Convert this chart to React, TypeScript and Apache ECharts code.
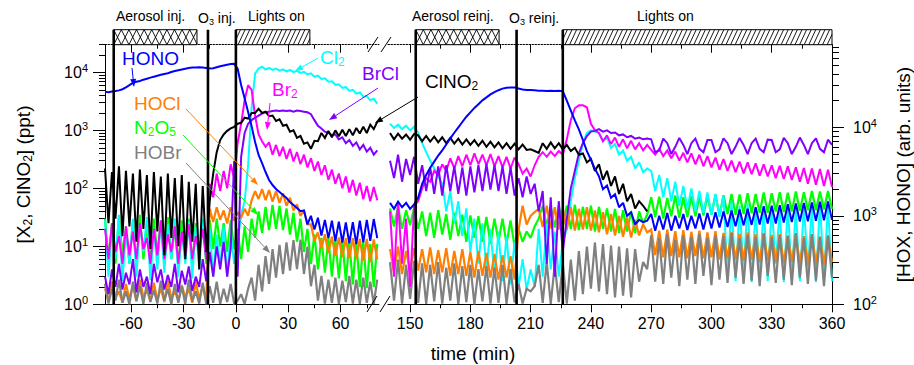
import React, { useEffect, useRef } from "react";
import * as echarts from "echarts";

const FONT = "'Liberation Sans', Arial, Helvetica, sans-serif";

// ---- time sampling of the two axis segments (min) ----
const LEFT_T0 = -75;
const RIGHT_T0 = 140;
const DT = 2;
const LEFT_RANGE = [-75, 82];
const RIGHT_RANGE = [139, 360];
const PPT_RANGE = [1, 30000];
const ARB_RANGE = [100, 86000];

// ---- ticks ----
const leftMajorTicks = [-60, -30, 0, 30, 60];
const leftMinorTicks = [-45, -15, 15, 45, 75];
const rightMajorTicks = [150, 180, 210, 240, 270, 300, 330, 360];
const rightMinorTicks = [165, 195, 225, 255, 285, 315, 345];
const pptDecades = [1, 10, 100, 1000, 10000];
const pptMinor = [2, 3, 4, 5, 6, 7, 8, 9, 20, 30, 40, 50, 60, 70, 80, 90, 200, 300, 400, 500, 600, 700, 800, 900, 2000, 3000, 4000, 5000, 6000, 7000, 8000, 9000, 20000, 30000];
const arbDecades = [100, 1000, 10000];
const arbMinor = [200, 300, 400, 500, 600, 700, 800, 900, 2000, 3000, 4000, 5000, 6000, 7000, 8000, 9000, 20000, 30000, 40000, 50000, 60000, 70000, 80000];

// ---- events (min) ----
const eventsLeft = [-70, -16, 0];
const eventsRight = [152.8, 203, 226];
// [start, end, kind] kind 0 = aerosol (cross-hatch), 1 = lights (hatch)
const boxesLeft = [[-70, -22.3, 0], [0, 42.4, 1]];
const boxesRight = [[152.8, 194.3, 0], [226, 360, 1]];

// ---- left segment data, t = -75, -73, ... 81 ----
const honoLeft = [25200, 25000, 25500, 25800, 26200, 27000, 28300, 30000, 31900, 32800, 33500, 34600, 35500, 36500, 37400, 38300, 39300, 40200, 41000, 42200, 43300, 44200, 45200, 46000, 46800, 47400, 47600, 47800, 47600, 47000, 46300, 46600, 47800, 49000, 50000, 51000, 51900, 52200,
  46000, 30100, 21400, 14900, 10300, 6820, 4870, 3950, 3130, 2540, 2230, 2010, 1860, 1720, 1590, 1430, 1325, 1225, 1130,
  1150, 800, 1000, 700, 950, 600, 900, 560, 880, 520, 860, 500, 840, 490, 850, 480, 880, 500, 900, 520, 920, 560];
const cl2Left = [28, 3, 22, 6, 35, 2.5, 18, 5, 30, 3, 25, 8, 32, 2.6, 20, 4, 28, 3.5, 24, 6, 30, 3, 18, 5, 26, 2.8, 22, 4, 30, 6, 20, 3, 16, 4.5, 22, 3, 18, 5,
  12, 35, 60, 250, 2500, 9500,
  11700, 12500, 11200, 12000, 11000, 11600, 10700, 11300, 10400, 11000, 10100, 10600, 9800, 10200, 9200, 9600, 8400, 8800, 7700, 7900, 6900, 7000, 6100, 6200, 5400, 5600, 4800, 5000, 4300, 4500, 3800, 3900, 3300, 3500, 2900];
const br2Left = [20, 6, 25, 8, 15, 5, 22, 7, 18, 6, 25, 9, 14, 5, 20, 7, 28, 6, 16, 8, 22, 5, 18, 7, 24, 6, 15, 8, 20, 6,
  120, 70, 180, 90, 200, 100, 260, 150,
  600, 1300, 3300, 6000, 5000, 1800, 850, 650, 520,
  620, 380, 560, 360, 520, 320, 480, 290, 420, 260, 380, 230, 330, 200, 290, 170, 250, 140, 210, 120, 180, 100, 160, 85, 140, 75, 125, 65, 110, 60, 105, 62];
const brclLeft = [3, 1.5, 4, 2, 5, 1.8, 3.5, 2.2, 6, 1.6, 4, 2, 3, 1.5, 5, 2.4, 4, 1.8, 3.2, 2, 5, 1.6, 3.8, 2.2, 4.5, 1.7, 3, 2, 6, 2.5, 8, 3, 10, 4, 12, 3, 9,
  300,
  3, 350, 900, 1300, 1500, 1650, 1800, 1950, 2050, 2100, 2150, 2200, 2150, 2200, 2150, 2200, 2100, 2200, 2150, 2100, 2050, 1900, 1500, 1200, 1080, 950, 900, 830, 850, 700, 760, 600, 680, 540, 620, 470, 560, 430, 500, 380, 450];
const clno2Left = [220, 25, 190, 30, 240, 15, 200, 22, 180, 12, 210, 20, 170, 9, 190, 18, 160, 7, 180, 14, 150, 10, 170, 6, 130, 12, 120, 4, 110, 8,
  60, 180, 420, 680, 850, 980, 1080, 1150,
  1300, 1350, 1650, 1600, 2000, 2000, 2350, 2000, 2100, 1750, 1800, 1450, 1550, 1200, 1250, 950, 1000, 740, 800, 590, 620, 480, 660, 650, 900, 740, 980, 760, 1000, 790, 1020, 800, 1050, 820, 1100, 880, 1150, 900, 1250, 1050, 1400];
const hoclLeft = [150, 110, 180, 120, 140, 105, 170, 115, 160, 110, 190, 120, 145, 108, 175, 112, 150, 106, 185, 118, 140, 110, 165, 120, 150, 104, 180, 115, 160, 112,
  1200, 850, 1250, 900, 1150, 820, 1250, 880,
  1100, 950, 1200, 1000,
  1500, 1900, 1550, 2000, 1500, 1950, 1450, 1900, 1400, 1800, 1300, 1600, 1150, 1350, 1000, 1150, 800, 800, 520, 650, 430, 620, 380, 580, 350, 570, 340, 560, 330, 560, 320, 550, 310, 550, 300, 540, 320];
const n2o5Left = [30, 6, 25, 5, 32, 7, 22, 5, 28, 4.5, 35, 6, 24, 5, 30, 7, 26, 5, 32, 6, 22, 4.5, 28, 6, 30, 5, 25, 7, 28, 5,
  28, 9, 30, 10, 25, 8, 28, 9,
  20, 6, 22, 8,
  30, 14, 40, 17, 48, 19, 52, 20, 50, 19, 45, 16, 38, 12, 30, 8, 20, 5, 16, 4, 14, 3.5, 14, 3, 13, 2.8, 13, 2.5, 12, 2.2, 12, 2, 12, 1.9, 11, 2, 11];
const hobrLeft = [170, 102, 150, 110, 190, 104, 140, 100, 180, 108, 160, 101, 175, 106, 145, 102, 185, 110, 150, 100, 170, 104, 160, 101, 190, 108, 140, 102, 175, 100, 160, 104, 180, 101, 150, 106, 170, 102,
  110, 130, 101, 150,
  200, 110, 280, 140, 350, 170, 420, 200, 470, 220, 500, 240, 530, 250, 540, 220, 450, 160, 280, 110, 210, 102, 190, 104, 200, 101, 185, 106, 210, 102, 190, 101, 200, 104, 180, 101, 190];

// ---- right segment data, t = 140, 142, ... 360 ----
const honoRight = [1400, 1200, 1450, 1250, 1400, 1200, 1350,
  1600, 2300, 2900, 3500, 4100, 4800, 5500, 6400, 7500, 8700, 10000, 11500, 13200, 14800, 16600, 18300, 20200, 21800, 23600, 25000, 26300, 27400, 28000, 28300, 28300, 27500, 26800, 26500, 26400, 26300, 26000, 25900, 25800, 26000, 25800, 25900, 25700,
  20000, 15500, 12000, 9500, 7200, 5400, 4300, 3400,
  2800, 2000, 2200, 1600, 1750, 1250, 1400, 1000, 1100, 800, 900, 850, 880,
  1050, 680, 1000, 700, 1080, 680, 1000, 720, 1050, 690, 1000, 720, 1060, 700, 1080, 720, 1100, 740, 1120, 750, 1150, 760, 1180, 780, 1200, 790, 1250, 800, 1280, 820, 1300, 820, 1320, 840, 1350, 850, 1380, 860, 1400, 870, 1420, 880, 1440, 890, 1450, 900];
const cl2Right = [1300, 1100, 1250, 1050, 1200, 1000, 1150,
  900, 600, 420, 300, 220, 160,
  120, 40, 90, 25, 60, 15, 45, 8, 30, 5, 25, 4, 20, 3, 18, 2.5, 15, 2.2, 12, 2, 6, 1.8, 4, 2, 20, 3, 25, 4, 18, 3, 12,
  20, 60, 150, 300, 600, 900, 1000, 950,
  900, 650, 750, 500, 580, 380, 450, 300, 350, 220, 280, 190, 220,
  200, 90, 170, 70, 150, 60, 130, 50, 110, 45, 100, 40, 90, 38, 85, 35, 80, 32, 75,
  3, 60, 2.5, 50, 4, 55, 2.4, 45, 3, 50, 2.5, 48, 5, 42, 2.4, 50, 3, 45, 2.5, 52, 4, 48, 2.4, 55, 3, 50, 2.5];
const br2Right = [40, 3, 60, 5, 30, 2, 50,
  60, 100, 150, 130, 200, 170, 260, 200, 330, 220, 360, 240, 380, 250, 400, 260, 380, 250, 390, 240, 360, 230, 350, 220, 340,
  260, 180, 220, 160, 250, 350, 420, 350, 430, 360, 440, 380,
  700, 1500, 2400, 2700, 2700, 2500, 1300, 1000,
  900, 650, 820, 580, 750, 520, 700, 490, 660, 470, 600, 450, 560, 460, 380, 480, 360, 450, 330, 430, 300, 410, 280, 400, 260, 380, 240, 360, 230, 340, 210, 320, 200, 300, 190, 290, 180, 280, 175, 270, 165, 260, 160, 250, 150, 245, 145, 240, 140, 230, 130, 225, 120, 220, 115, 215, 110, 210, 105];
const brclRight = [300, 150, 380, 130, 320, 170, 350,
  120, 250, 90, 230, 80, 240, 75, 250, 90, 240, 80, 230, 75, 240, 85, 250, 90, 260, 95, 250, 90, 240, 80, 230, 75,
  150, 70, 160, 80, 120, 40, 90, 5, 70, 3, 60, 8,
  30, 100, 200, 400, 600, 800, 950, 980,
  1050, 950, 1000, 900, 920, 820, 850, 760, 800, 720, 750, 700, 720,
  700, 420, 450, 720, 600, 390, 520, 740, 560, 390, 600, 720, 480, 420, 680, 680, 420, 470, 730, 600, 390, 520, 740, 560, 390, 600, 720, 480, 420, 690, 680, 420, 470, 740, 600, 390, 520, 750, 560, 390, 600, 730, 480, 420, 690, 560];
const clno2Right = [900, 700, 880, 720, 850, 690, 870,
  820, 650, 800, 640, 780, 620, 760, 600, 740, 590, 720, 570, 700, 560, 680, 540, 660, 520, 640, 510, 620, 490, 600, 480, 590, 470, 570, 460, 470, 440, 410, 600, 480, 620, 490, 600, 470,
  560, 440, 500, 380, 400, 280, 320, 200, 260, 140, 200, 110, 160, 80, 120, 60, 80, 45, 60, 50, 40];
const hoclRight = [420, 230, 450, 220, 400, 240, 430,
  240, 420, 230, 440, 220, 410, 230, 430, 210, 400, 220, 420, 210, 390, 200, 400, 210, 380, 200, 370, 190, 360, 200, 350, 190,
  700, 1300, 800, 1000, 1100, 1200, 750, 1300, 720, 1250, 700, 1200,
  700, 1250, 680, 1200, 700, 1250, 680, 1150, 650, 1100, 620, 1050, 600, 1000, 580, 950, 570, 900, 600, 800, 650,
  700, 360, 680, 340, 700, 350, 670, 340, 690, 330, 660, 350, 680, 330, 650, 340, 670, 320, 640, 330, 660, 320, 630, 310, 650, 320, 620, 300, 640, 310, 610, 300, 620, 290, 600, 300, 610, 290, 590, 280, 600, 290, 580, 280, 590, 300];
const n2o5Right = [45, 22, 48, 20, 42, 23, 46,
  20, 40, 15, 38, 14, 42, 16, 36, 13, 38, 15, 35, 12, 34, 14, 33, 12, 32, 11, 30, 12, 30, 11, 28, 10,
  20, 12, 18, 14, 22, 30, 50, 22, 48, 21, 50, 22,
  50, 20, 52, 19, 48, 20, 50, 18, 48, 20, 45, 18, 44, 17, 42, 18, 40, 17, 40, 25, 35,
  70, 32, 72, 30, 68, 33, 75, 31, 70, 32, 73, 33, 72, 34, 75, 35, 78, 34, 76, 36, 80, 35, 78, 36, 82, 37, 80, 38, 85, 38, 82, 40, 86, 39, 84, 40, 88, 41, 86, 42, 90, 42, 88, 43, 90, 44];
const hobrRight = [300, 110, 320, 102, 280, 115, 310,
  104, 290, 101, 280, 108, 300, 102, 260, 110, 290, 101, 270, 106, 280, 100, 250, 108, 270, 102, 260, 104, 280, 101, 250, 105,
  170, 102, 150, 140, 160, 280, 104, 300, 101, 280, 106, 290,
  102, 320, 110, 400, 130, 450, 150, 500, 140, 480, 130, 460, 120, 450, 125, 430, 120, 420, 180, 300, 250,
  600, 180, 560, 170, 620, 200, 540, 160, 600, 190, 580, 170, 620, 210, 560, 165, 600, 190, 590, 175, 640, 200, 560, 170, 610, 185, 580, 160, 630, 210, 570, 175, 600, 190, 590, 165, 640, 200, 560, 170, 620, 185, 580, 160, 600, 200];

const C = {
  hono: "#0000ff",
  cl2: "#00ffff",
  br2: "#ff00ff",
  brcl: "#8000ff",
  clno2: "#000000",
  hocl: "#ff8000",
  n2o5: "#00ff00",
  hobr: "#808080",
};

// draw order: first drawn at the bottom
const species = [
  { key: "n2o5", axis: "ppt", left: n2o5Left, right: n2o5Right, width: 2.2 },
  { key: "cl2", axis: "ppt", left: cl2Left, right: cl2Right, width: 2 },
  { key: "hocl", axis: "arb", left: hoclLeft, right: hoclRight, width: 2.2 },
  { key: "hobr", axis: "arb", left: hobrLeft, right: hobrRight, width: 2.2 },
  { key: "br2", axis: "ppt", left: br2Left, right: br2Right, width: 2 },
  { key: "brcl", axis: "ppt", left: brclLeft, right: brclRight, width: 2 },
  { key: "clno2", axis: "ppt", left: clno2Left, right: clno2Right, width: 2 },
  { key: "hono", axis: "arb", left: honoLeft, right: honoRight, width: 2 },
];

const BOX_H = 15;

const renderEvent = (params: any, api: any) => {
  const cs = params.coordSys;
  const x = api.coord([api.value(0), api.value(1)])[0];
  return {
    type: "line",
    shape: { x1: x, y1: cs.y - BOX_H, x2: x, y2: cs.y + cs.height },
    style: { stroke: "#000", lineWidth: 2.6 },
  };
};

const renderBox = (params: any, api: any) => {
  const cs = params.coordSys;
  const x0 = api.coord([api.value(0), PPT_RANGE[0]])[0];
  const x1 = api.coord([api.value(1), PPT_RANGE[0]])[0];
  const kind = api.value(2);
  const top = cs.y - BOX_H;
  const bot = cs.y;
  const children: any[] = [
    { type: "rect", shape: { x: x0, y: top, width: x1 - x0, height: BOX_H }, style: { fill: "#fff" } },
  ];
  const spacing = kind === 0 ? 7.6 : 4.6;
  const dx = kind === 0 ? 7.6 : 7;
  const dirs = kind === 0 ? [1, -1] : [1];
  for (const d of dirs) {
    for (let s = x0 - dx; s < x1; s += spacing) {
      const uMin = Math.max(0, (x0 - s) / dx);
      const uMax = Math.min(1, (x1 - s) / dx);
      if (uMax <= uMin) continue;
      const yA = d > 0 ? bot : top;
      const yB = d > 0 ? top : bot;
      children.push({
        type: "line",
        shape: { x1: s + dx * uMin, y1: yA + (yB - yA) * uMin, x2: s + dx * uMax, y2: yA + (yB - yA) * uMax },
        style: { stroke: "#000", lineWidth: 0.9 },
      });
    }
  }
  children.push({
    type: "rect",
    shape: { x: x0, y: top, width: x1 - x0, height: BOX_H },
    style: { fill: "none", stroke: "#000", lineWidth: 1 },
  });
  return { type: "group", children };
};

const supFmt = (v: number) => `10{sup|${Math.round(Math.log10(v))}}`;
const supRich = { sup: { fontSize: 11, padding: [0, 0, 9, 0], fontFamily: FONT, color: "#000" } };

function xAxes(gridIndex: number, range: number[], major: number[], minor: number[]) {
  const base = {
    gridIndex,
    type: "value",
    min: range[0],
    max: range[1],
    splitLine: { show: false },
  };
  return [
    {
      ...base,
      position: "bottom",
      axisLine: { show: true, onZero: false, lineStyle: { color: "#000", width: 1 } },
      axisTick: { show: true, customValues: major, length: 8, lineStyle: { color: "#000" } },
      axisLabel: { show: true, customValues: major, fontSize: 16, color: "#000", fontFamily: FONT, margin: 11 },
    },
    {
      ...base,
      position: "bottom",
      axisLine: { show: false, onZero: false },
      axisTick: { show: true, customValues: minor, length: 4, lineStyle: { color: "#000" } },
      axisLabel: { show: false },
    },
    {
      ...base,
      position: "top",
      axisLine: { show: true, onZero: false, lineStyle: { color: "#000", width: 1, type: [1.5, 1.5] } },
      axisTick: { show: true, inside: true, customValues: major, length: 8, lineStyle: { color: "#000" } },
      axisLabel: { show: false },
    },
    {
      ...base,
      position: "top",
      axisLine: { show: false, onZero: false },
      axisTick: { show: true, inside: true, customValues: minor, length: 4, lineStyle: { color: "#000" } },
      axisLabel: { show: false },
    },
  ];
}

function logAxis(gridIndex: number, position: string, range: number[], extra: any) {
  return {
    gridIndex,
    position,
    type: "log",
    logBase: 10,
    min: range[0],
    max: range[1],
    splitLine: { show: false },
    minorTick: { show: false },
    ...extra,
  };
}

const arrows = [
  { from: [132, 68], to: [134, 87], color: C.hono },
  { from: [318, 58], to: [295, 71], color: C.cl2 },
  { from: [378, 88], to: [329, 120], color: C.brcl },
  { from: [270, 103], to: [267, 130], color: C.br2 },
  { from: [418, 97], to: [375, 123], color: C.clno2 },
  { from: [186, 109], to: [258, 185], color: C.hocl },
  { from: [183, 135], to: [258, 215], color: C.n2o5 },
  { from: [186, 163], to: [270, 253], color: C.hobr },
];

const labels = [
  { text: "HONO", x: 122, y: 49, color: C.hono },
  { text: "Cl{s|2}", x: 320, y: 47, color: C.cl2 },
  { text: "BrCl", x: 362, y: 64, color: C.brcl },
  { text: "Br{s|2}", x: 272, y: 79, color: C.br2 },
  { text: "ClNO{s|2}", x: 425, y: 71, color: C.clno2 },
  { text: "HOCl", x: 134, y: 94, color: C.hocl },
  { text: "N{s|2}O{s|5}", x: 134, y: 117, color: C.n2o5 },
  { text: "HOBr", x: 134, y: 143, color: C.hobr },
];

const topLabels = [
  { text: "Aerosol inj.", x: 116 },
  { text: "O{s|3} inj.", x: 198 },
  { text: "Lights on", x: 248 },
  { text: "Aerosol reinj.", x: 412 },
  { text: "O{s|3} reinj.", x: 509 },
  { text: "Lights on", x: 637 },
];

const breakMarks = [
  [367, 312, 377, 296],
  [380, 312, 390, 296],
  [368, 52, 378, 37],
  [381, 52, 391, 37],
];

function arrowEls(a: any) {
  const [x1, y1] = a.from;
  const [x2, y2] = a.to;
  const dx = x2 - x1;
  const dy = y2 - y1;
  const len = Math.hypot(dx, dy);
  const ux = dx / len;
  const uy = dy / len;
  const L = 8;
  const W = 3;
  const bx = x2 - ux * L;
  const by = y2 - uy * L;
  return [
    { type: "line", z: 100, shape: { x1, y1, x2: bx, y2: by }, style: { stroke: a.color, lineWidth: 1 } },
    {
      type: "polygon",
      z: 100,
      shape: { points: [[x2, y2], [bx - uy * W, by + ux * W], [bx + uy * W, by - ux * W]] },
      style: { fill: a.color },
    },
  ];
}

export default function App() {
  const ref = useRef<HTMLDivElement>(null);
  useEffect(() => {
    if (!ref.current) return;
    const chart = echarts.init(ref.current, undefined, { renderer: "svg" });

    const series: any[] = [];
    for (const sp of species) {
      const color = (C as any)[sp.key];
      series.push({
        type: "line",
        name: sp.key + "-L",
        xAxisIndex: 0,
        yAxisIndex: sp.axis === "ppt" ? 0 : 2,
        data: sp.left.map((v, i) => [LEFT_T0 + DT * i, v]),
        showSymbol: false,
        symbol: "none",
        lineStyle: { color, width: sp.width, join: "miter", miterLimit: 2 },
        itemStyle: { color },
        silent: true,
        clip: true,
      });
      series.push({
        type: "line",
        name: sp.key + "-R",
        xAxisIndex: 4,
        yAxisIndex: sp.axis === "ppt" ? 3 : 4,
        data: sp.right.map((v, i) => [RIGHT_T0 + DT * i, v]),
        showSymbol: false,
        symbol: "none",
        lineStyle: { color, width: sp.width, join: "miter", miterLimit: 2 },
        itemStyle: { color },
        silent: true,
        clip: true,
      });
    }
    series.push(
      { type: "custom", xAxisIndex: 0, yAxisIndex: 0, renderItem: renderBox, data: boxesLeft, silent: true, z: 5, clip: false },
      { type: "custom", xAxisIndex: 4, yAxisIndex: 3, renderItem: renderBox, data: boxesRight, silent: true, z: 5, clip: false },
      { type: "custom", xAxisIndex: 0, yAxisIndex: 0, renderItem: renderEvent, data: eventsLeft.map((t) => [t, PPT_RANGE[0]]), silent: true, z: 6, clip: false },
      { type: "custom", xAxisIndex: 4, yAxisIndex: 3, renderItem: renderEvent, data: eventsRight.map((t) => [t, PPT_RANGE[0]]), silent: true, z: 6, clip: false }
    );

    const graphic: any[] = [];
    for (const a of arrows) graphic.push(...arrowEls(a));
    for (const l of labels) {
      graphic.push({
        type: "text",
        x: l.x,
        y: l.y,
        z: 101,
        style: {
          text: l.text,
          fill: l.color,
          fontSize: 19,
          fontFamily: FONT,
          verticalAlign: "top",
          rich: { s: { fontSize: 12, fontFamily: FONT, fill: l.color, padding: [9, 0, 0, 0] } },
        },
      });
    }
    for (const l of topLabels) {
      graphic.push({
        type: "text",
        x: l.x,
        y: 9,
        z: 101,
        style: {
          text: l.text,
          fill: "#000",
          fontSize: 14,
          fontFamily: FONT,
          verticalAlign: "top",
          rich: { s: { fontSize: 9, fontFamily: FONT, fill: "#000", padding: [8, 0, 0, 0] } },
        },
      });
    }
    for (const b of breakMarks) {
      graphic.push({
        type: "line",
        z: 101,
        shape: { x1: b[0], y1: b[1], x2: b[2], y2: b[3] },
        style: { stroke: "#000", lineWidth: 1 },
      });
    }
    graphic.push({
      type: "text",
      x: 473,
      y: 353,
      z: 101,
      style: { text: "time (min)", fill: "#000", fontSize: 19, fontFamily: FONT, align: "center", verticalAlign: "middle" },
    });

    const option: any = {
      animation: false,
      textStyle: { fontFamily: FONT },
      grid: [
        { left: 105, right: 914 - 379, top: 44.7, bottom: 365 - 304.3 },
        { left: 388, right: 914 - 835, top: 44.7, bottom: 365 - 304.3 },
      ],
      xAxis: [
        ...xAxes(0, LEFT_RANGE, leftMajorTicks, leftMinorTicks),
        ...xAxes(1, RIGHT_RANGE, rightMajorTicks, rightMinorTicks),
      ],
      yAxis: [
        logAxis(0, "left", PPT_RANGE, {
          axisLine: { show: true, onZero: false, lineStyle: { color: "#000", width: 1 } },
          axisTick: { show: true, customValues: pptDecades, length: 12, lineStyle: { color: "#000" } },
          axisLabel: { show: true, customValues: pptDecades, formatter: supFmt, rich: supRich, fontSize: 16, color: "#000", fontFamily: FONT, margin: 17 },
          name: "[X{s|2}, ClNO{s|2}] (ppt)",
          nameLocation: "middle",
          nameRotate: 90,
          nameGap: 71,
          nameTextStyle: { fontSize: 19, color: "#000", fontFamily: FONT, rich: { s: { fontSize: 12, fontFamily: FONT, color: "#000", padding: [9, 0, 0, 0] } } },
        }),
        logAxis(0, "left", PPT_RANGE, {
          axisLine: { show: false, onZero: false },
          axisTick: { show: true, customValues: pptMinor, length: 6, lineStyle: { color: "#000" } },
          axisLabel: { show: false },
        }),
        logAxis(0, "right", ARB_RANGE, { show: false, axisLine: { show: false, onZero: false } }),
        logAxis(1, "left", PPT_RANGE, { show: false, axisLine: { show: false, onZero: false } }),
        logAxis(1, "right", ARB_RANGE, {
          axisLine: { show: true, onZero: false, lineStyle: { color: "#000", width: 1 } },
          axisTick: { show: true, customValues: arbDecades, length: 12, lineStyle: { color: "#000" } },
          axisLabel: { show: true, customValues: arbDecades, formatter: supFmt, rich: supRich, fontSize: 16, color: "#000", fontFamily: FONT, margin: 21 },
          name: "[HOX, HONO] (arb. units)",
          nameLocation: "middle",
          nameRotate: 90,
          nameGap: 62,
          nameTextStyle: { fontSize: 19, color: "#000", fontFamily: FONT },
        }),
        logAxis(1, "right", ARB_RANGE, {
          axisLine: { show: false, onZero: false },
          axisTick: { show: true, customValues: arbMinor, length: 7, lineStyle: { color: "#000" } },
          axisLabel: { show: false },
        }),
      ],
      series,
      graphic: { elements: graphic },
    };
    chart.setOption(option);
    return () => chart.dispose();
  }, []);
  return <div ref={ref} style={{ position: "absolute", left: 0, top: 0, width: 914, height: 365 }} />;
}
